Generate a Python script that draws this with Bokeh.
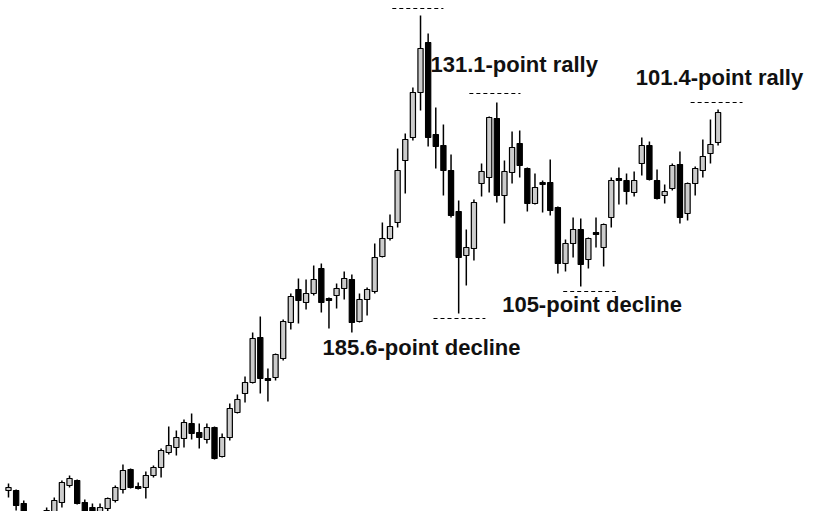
from bokeh.plotting import figure
from bokeh.models import Range1d, ColumnDataSource
from bokeh.core.properties import value
from bokeh.embed import file_html
from bokeh.resources import INLINE

# Candle values (chart points)
opens = [40, 40, 27, 17, 10, 10, 18, 28, 45, 50, 28, 23, 16, 22, 30, 41, 61, 44, 43, 55,
         63, 78, 83, 92, 107, 98, 91, 103, 74, 93, 118, 137, 148, 193, 152, 153, 172, 208, 241, 228,
         237, 262, 232, 235, 242, 251, 209, 231, 239, 274, 292, 308, 370, 393, 438, 488, 396, 385, 360, 319,
         275, 282, 347, 353, 412, 335, 358, 387, 362, 327, 348, 348, 323, 267, 287, 301, 271, 298, 283, 313,
         352, 350, 338, 367, 385, 350, 335, 342, 366, 317, 347, 360, 377, 388]
highs = [47, 41, 30, 19, 16, 23, 33, 50, 55, 51, 31, 27, 27, 33, 45, 66, 62, 48, 59, 65,
         82, 104, 100, 111, 117, 107, 107, 104, 97, 127, 136, 154, 198, 214, 162, 177, 211, 237, 252, 251,
         265, 267, 233, 247, 259, 256, 237, 243, 287, 308, 316, 382, 397, 443, 515, 497, 423, 406, 376, 330,
         301, 331, 367, 414, 428, 370, 399, 400, 363, 357, 350, 371, 324, 291, 313, 312, 293, 313, 307, 353,
         363, 357, 359, 393, 389, 361, 346, 367, 379, 348, 364, 391, 411, 421]
lows = [33, 20, 12, 8, 9, 3, 17, 23, 43, 26, 17, 11, 11, 18, 28, 37, 42, 41, 32, 53,
        53, 76, 75, 83, 91, 82, 87, 71, 73, 90, 117, 128, 147, 137, 129, 150, 170, 201, 207, 221,
        235, 218, 202, 222, 231, 198, 208, 215, 237, 273, 290, 303, 337, 390, 420, 384, 362, 335, 313, 217,
        245, 270, 334, 338, 328, 307, 347, 353, 319, 326, 318, 315, 257, 259, 273, 244, 262, 283, 264, 303,
        326, 326, 334, 355, 350, 331, 327, 340, 307, 310, 335, 353, 367, 385]
closes = [43, 25, 13, 10, 15, 20, 30, 48, 52, 27, 18, 15, 23, 32, 43, 60, 43, 42, 55, 63,
          80, 85, 93, 108, 97, 93, 103, 72, 93, 122, 131, 148, 192, 152, 150, 176, 209, 234, 230, 237,
          251, 228, 230, 242, 252, 208, 231, 241, 273, 292, 304, 360, 391, 438, 482, 393, 384, 360, 315, 273,
          283, 328, 359, 413, 335, 359, 383, 365, 327, 343, 346, 320, 267, 287, 301, 266, 292, 296, 306, 350,
          350, 339, 350, 385, 351, 332, 339, 365, 313, 347, 362, 374, 386, 418]

# Annotations
ann_texts = ["131.1-point rally", "185.6-point decline", "105-point decline", "101.4-point rally"]
ann_x = [55.3, 41.15, 64.7, 82.2]
ann_y = [466, 183, 226, 453]
lvl_y = [522, 212, 437, 239, 428]
lvl_x0 = [50.3, 55.7, 60.4, 72.7, 89.4]
lvl_x1 = [57.0, 62.5, 67.1, 79.6, 96.2]

n = len(opens)
idx = list(range(n))
up = [c >= o for o, c in zip(opens, closes)]

src_up = ColumnDataSource(dict(
    x=[i for i in idx if up[i]],
    top=[closes[i] for i in idx if up[i]],
    bottom=[opens[i] for i in idx if up[i]],
))
src_dn = ColumnDataSource(dict(
    x=[i for i in idx if not up[i]],
    top=[opens[i] for i in idx if not up[i]],
    bottom=[closes[i] for i in idx if not up[i]],
))
src_wick = ColumnDataSource(dict(x=idx, hi=highs, lo=lows))

W, H = 823, 511
spacing = 7.63
x0 = -8 / spacing
p = figure(width=W, height=H, output_backend="svg", toolbar_location=None,
           x_range=Range1d(x0, x0 + W / spacing), y_range=Range1d(530 - H, 530),
           min_border=0, min_border_left=0, min_border_right=0,
           min_border_top=0, min_border_bottom=0)
p.axis.visible = False
p.grid.visible = False
p.outline_line_color = None
p.background_fill_color = "white"
p.border_fill_color = "white"

p.segment(x0="x", y0="lo", x1="x", y1="hi", source=src_wick, line_color="black", line_width=1.5)
p.vbar(x="x", top="top", bottom="bottom", width=0.68, source=src_up,
       fill_color="#cccccc", line_color="black", line_width=1.2)
p.vbar(x="x", top="top", bottom="bottom", width=0.68, source=src_dn,
       fill_color="black", line_color="black", line_width=1.2)

p.segment(x0=lvl_x0, y0=lvl_y, x1=lvl_x1, y1=lvl_y, line_color="black",
          line_width=1.2, line_dash="4 3")

p.text(x=ann_x, y=ann_y, text=ann_texts, text_font=value("Liberation Sans"),
       text_font_style="bold", text_font_size="22px", text_color="#111111",
       text_align="left", text_baseline="alphabetic")

open("out.html", "w").write(file_html(p, INLINE))
